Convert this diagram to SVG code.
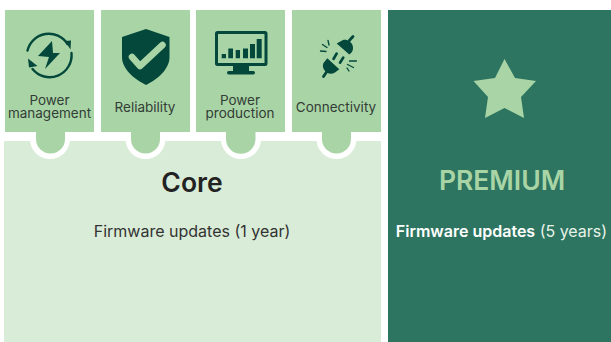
<svg xmlns="http://www.w3.org/2000/svg" width="611" height="342" viewBox="0 0 611 342">
<style>
.tile{fill:#a9d5a6}
.ring{fill:#fff}
.ic{fill:#03483a}
.ics{fill:none;stroke:#03483a;stroke-linecap:round;stroke-linejoin:round}
text{font-family:Inter,"Liberation Sans",sans-serif;text-anchor:middle}
.lb{font-size:13.500px;fill:#333c36}
</style>
<rect width="611" height="342" fill="#fff"/>
<g id="core">
<rect x="4" y="141" width="377" height="201" fill="#d9ecd7"/>
<text x="192" y="192" font-size="26.500" font-weight="600" fill="#222">Core</text>
<text x="192" y="236.500" font-size="16" fill="#333">Firmware updates (1 year)</text>
</g>
<g id="power-management">
<circle class="ring" cx="50" cy="139" r="20"/>
<rect class="tile" x="5" y="10" width="89" height="122"/>
<rect class="ring" x="0" y="132" width="98" height="9"/>
<path class="tile" d="M36 132H65V139A14.500 14.500 0 0 1 36 139Z"/>
<path class="ics" stroke-width="2.400" stroke-linecap="butt" d="M27.500 50.500A22 22 0 0 1 67.500 44M71.500 53A22 22 0 0 1 32.500 69"/>
<path class="ic" d="M65 41 71 40.500 70.500 49.500ZM28 58.500 37.500 66 29 67.500Z"/>
<path class="ic" d="M52 41 38 56 49 57 45 69 60 53 53 53Z"/>
<text class="lb" x="49.500" y="105">Power<tspan x="49.500" dy="13">management</tspan></text>
</g>
<g id="reliability">
<circle class="ring" cx="145.500" cy="139" r="20"/>
<rect class="tile" x="101" y="10" width="89" height="122"/>
<rect class="ring" x="94" y="132" width="100" height="9"/>
<path class="tile" d="M131 132H160V139A14.500 14.500 0 0 1 131 139Z"/>
<path class="ic" d="M146 29 169.500 37V57C169.500 69 158 79 146 85C134 79 122 69 122 57V37Z"/>
<path fill="none" stroke="#a9d5a6" stroke-width="6.500" stroke-linecap="round" stroke-linejoin="round" d="M132 57 140 66 162.500 45"/>
<text class="lb" x="145" y="112">Reliability</text>
</g>
<g id="power-production">
<circle class="ring" cx="241" cy="139" r="20"/>
<rect class="tile" x="196" y="10" width="89" height="122"/>
<rect class="ring" x="190" y="132" width="100" height="9"/>
<path class="tile" d="M226 132H255.500V139A14.750 14.750 0 0 1 226 139Z"/>
<rect class="ics" x="216.500" y="32.500" width="49.500" height="32" rx="1" stroke-width="3"/>
<path class="ic" d="M221.700 54h4.300v4.300h-4.300zM228.300 48.500h4.700v9.800h-4.700zM235.700 50h4.300v8.300h-4.300zM243 48.500h5v9.800h-5zM250 44h5v14.300h-5zM256.700 39h5v19.300h-5zM233 66h16v5H233z"/>
<rect class="ic" x="227" y="71" width="28" height="3.500" rx="1.700"/>
<text class="lb" x="240" y="105">Power<tspan x="240" dy="13">production</tspan></text>
</g>
<g id="connectivity">
<circle class="ring" cx="336.500" cy="139" r="20"/>
<rect class="tile" x="292" y="10" width="89" height="122"/>
<rect class="ring" x="285" y="132" width="96" height="9"/>
<path class="tile" d="M322 132H351V139A14.500 14.500 0 0 1 322 139Z"/>
<path class="ic" d="M336.700 43.500 343 40C347 39 351 41.500 352.500 45 353.500 48 353 51 351.500 52.500L349.300 54.500Z"/>
<path class="ic" d="M327.300 58.300 339.300 69.300 335 72.500C331 75 327 73.500 325 71 322.500 68 322.500 65 323.500 63Z"/>
<path class="ics" stroke-width="2.800" d="M349.300 40.500 353 36.500M326.700 71.700 323.500 76.500"/>
<path class="ics" stroke-width="2.600" d="M333.500 59 336.700 53.500M340 62.700 343.300 57.500"/>
<path class="ics" stroke-width="1.300" d="M320.500 51 326 51.500M322.500 44.500 327 47.500M328 40.500 329 45M349.500 61 356.500 61M347.500 64.500 353.500 67.500M347 68 349 71"/>
<text class="lb" x="336" y="112">Connectivity</text>
</g>
<g id="premium">
<rect x="388" y="10" width="223" height="332" fill="#2d7560"/>
<path fill="#a9d5a6" d="M504.500 59 515 78 536 81 521 97 524 118 504.500 108 485 118 488 97 473.500 81 495 78Z"/>
<text x="502" y="189.500" font-size="26.500" font-weight="600" fill="#a9d5a6">PREMIUM</text>
<text x="501.500" y="236.500" font-size="16" fill="#e8f3e8"><tspan font-weight="600" fill="#fff">Firmware updates</tspan> (5 years)</text>
</g>
<g id="connectors"/>
</svg>
